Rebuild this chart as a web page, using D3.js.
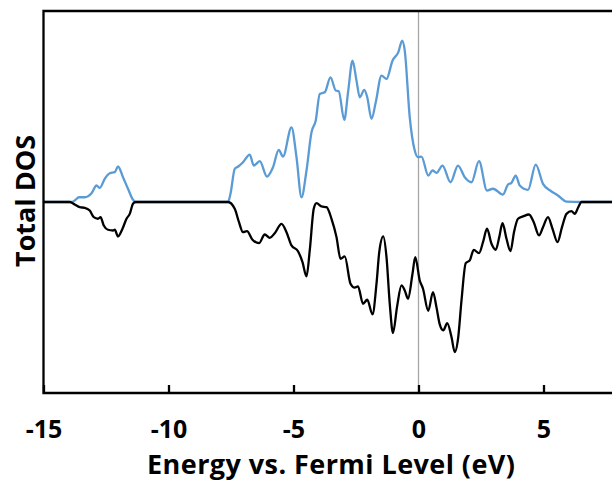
<!DOCTYPE html>
<html>
<head>
<meta charset="utf-8">
<script src="https://cdn.jsdelivr.net/npm/d3@7"></script>
<style>
  body { margin: 0; background: #fff; }
  svg { display: block; }
  text { font-family: "Open Sans", "DejaVu Sans", sans-serif; font-weight: bold; fill: #000; }
</style>
</head>
<body>
<div id="chart"></div>
<script>
// spin-up (blue) DOS
const upEnergy = [-15, -13.88, -13.75, -13.58, -13.35, -13.08, -12.88, -12.75, -12.55, -12.35, -12.15, -12.02, -11.82, -11.62, -11.42, -11.31,
  -7.62, -7.52, -7.35, -7.21, -7.02, -6.75, -6.59, -6.35, -6.06, -5.82, -5.59, -5.42, -5.08, -4.88, -4.68, -4.48, -4.28, -4.11,
  -3.95, -3.75, -3.52, -3.31, -3.19, -2.97, -2.81, -2.64, -2.48, -2.35, -2.17, -2.05, -1.88, -1.71, -1.48, -1.28, -1.04, -0.81,
  -0.65, -0.55, -0.35, -0.15, -0.02, 0.12, 0.39, 0.56, 0.72, 0.96, 1.28, 1.58, 1.85, 2.12, 2.42, 2.74, 2.98, 3.38, 3.58, 3.72,
  3.89, 4.05, 4.38, 4.69, 4.98, 5.32, 5.58, 5.92, 6.52, 8];
const upDos = [0, 0, 0.16, 0.51, 0.51, 0.94, 1.77, 1.52, 2.49, 3.09, 3.20, 3.81, 2.66, 1.42, 0.24, 0,
  0, 0.88, 3.56, 3.81, 4.27, 5.09, 3.91, 4.38, 2.73, 3.73, 5.60, 4.88, 8.02, 4.80, 0.51, 3.38, 7.49, 8.74,
  11.60, 11.77, 13.38, 11.96, 11.88, 8.81, 11.96, 15.17, 13.03, 11.24, 12.03, 11.24, 8.92, 10.70, 13.57, 13.21, 15.17, 16.06,
  17.32, 16.25, 9.09, 5.52, 4.80, 4.88, 2.84, 3.38, 3.13, 3.91, 2.12, 3.91, 2.66, 2.12, 4.38, 1.23, 1.42, 0.80, 1.88, 2.06,
  2.84, 1.77, 1.31, 4.02, 1.95, 1.13, 0.70, 0.05, 0, 0];

// spin-down (black) DOS, drawn negative
const downEnergy = [-15, -13.95, -13.75, -13.55, -13.35, -13.15, -12.99, -12.82, -12.72, -12.59, -12.42, -12.22, -12.15, -12.02, -11.84,
  -11.68, -11.55, -11.42, -11.31, -7.62, -7.35, -7.18, -7.02, -6.86, -6.64, -6.38, -6.15, -5.95, -5.75, -5.48, -5.28, -5.08,
  -4.82, -4.64, -4.48, -4.35, -4.19, -4.08, -3.88, -3.68, -3.48, -3.28, -3.12, -2.95, -2.72, -2.55, -2.42, -2.22, -2.05, -1.84,
  -1.68, -1.57, -1.41, -1.28, -1.15, -1.02, -0.86, -0.68, -0.55, -0.42, -0.24, -0.13, 0.05, 0.18, 0.39, 0.58, 0.72, 0.85,
  0.99, 1.15, 1.32, 1.45, 1.59, 1.72, 1.89, 2.05, 2.21, 2.42, 2.58, 2.74, 2.92, 3.09, 3.23, 3.36, 3.52, 3.68, 3.82, 3.98,
  4.18, 4.42, 4.61, 4.82, 4.98, 5.18, 5.36, 5.56, 5.74, 5.92, 6.12, 6.25, 6.39, 6.52, 8];
const downDos = [0, 0, -0.27, -0.56, -0.62, -0.91, -1.63, -1.80, -1.63, -2.52, -2.98, -3.06, -2.98, -3.70, -2.87,
  -1.80, -1.27, -0.19, 0, 0, -0.73, -2.17, -3.24, -3.13, -4.05, -4.42, -3.49, -3.84, -3.35, -2.34, -3.24, -4.66,
  -5.28, -6.46, -7.99, -5.20, -0.73, -0.13, -0.48, -0.56, -1.80, -3.77, -6.09, -5.84, -8.77, -9.20, -9.06, -10.92, -10.49, -12.06,
  -8.77, -5.38, -3.70, -5.92, -10.92, -14.07, -11.28, -8.95, -9.49, -10.38, -7.70, -5.92, -8.42, -9.31, -11.67, -9.67, -11.31, -13.14,
  -13.78, -13.00, -14.50, -16.11, -14.50, -10.56, -6.56, -6.27, -5.13, -5.49, -4.31, -2.87, -4.48, -5.13, -3.77, -2.27, -3.95, -5.28, -3.24, -1.80,
  -1.55, -1.34, -2.17, -3.59, -2.70, -1.63, -2.87, -4.31, -2.70, -1.27, -0.99, -1.27, -0.56, 0, 0];

const xTicks = [-15, -10, -5, 0, 5];

(function () {
  const width = 612;
  const height = 480;
  const left = 43.5, top = 11, bottom = 393;

  const svg = d3.select('#chart')
    .append('svg')
    .attr('width', width)
    .attr('height', height);

  // 25px per eV, right side runs off the picture
  const x = d3.scaleLinear().domain([-15, 8]).range([left, left + 23 * 25]);
  const y = d3.scaleLinear().domain([-20.5, 20.5]).range([bottom, top]);

  const plot = svg.append('g');

  // Fermi level marker
  plot.append('line')
    .attr('x1', x(0)).attr('x2', x(0))
    .attr('y1', top).attr('y2', bottom)
    .attr('stroke', '#a6a6a6')
    .attr('stroke-width', 1.3);

  const line = d3.line()
    .x(d => x(d[0]))
    .y(d => y(d[1]))
    .curve(d3.curveMonotoneX);

  const upData = upEnergy.map((e, i) => [e, upDos[i]]);
  const downData = downEnergy.map((e, i) => [e, downDos[i]]);

  plot.append('path')
    .datum(upData)
    .attr('d', line)
    .attr('fill', 'none')
    .attr('stroke', '#5b9bd5')
    .attr('stroke-width', 2.3)
    .attr('stroke-linejoin', 'round');

  plot.append('path')
    .datum(downData)
    .attr('d', line)
    .attr('fill', 'none')
    .attr('stroke', '#000')
    .attr('stroke-width', 2.3)
    .attr('stroke-linejoin', 'round');

  // frame: top, left, bottom
  svg.append('path')
    .attr('d', 'M' + width + ',' + top + 'H' + left + 'V' + bottom + 'H' + width)
    .attr('fill', 'none')
    .attr('stroke', '#000')
    .attr('stroke-width', 2.3);

  // x axis ticks point inward
  const xAxis = d3.axisBottom(x)
    .tickValues(xTicks)
    .tickSizeInner(-8)
    .tickSizeOuter(0)
    .tickPadding(0)
    .tickFormat(d3.format('d'));

  const gx = svg.append('g')
    .attr('transform', 'translate(0,' + bottom + ')')
    .call(xAxis);
  gx.select('.domain').remove();
  gx.selectAll('.tick line')
    .attr('stroke', '#000')
    .attr('stroke-width', 2.3);
  gx.selectAll('.tick text')
    .attr('y', 45)
    .attr('dy', null)
    .style('font-size', '25px')
    .style('font-family', '"Open Sans", sans-serif')
    .style('font-weight', 'bold')
    .text(d => d < 0 ? '-' + Math.abs(d) : d);

  // title is a bit wider than Open Sans gives at this size
  svg.append('text')
    .attr('x', 331)
    .attr('y', 473.5)
    .attr('text-anchor', 'middle')
    .attr('textLength', 368)
    .attr('lengthAdjust', 'spacing')
    .style('font-size', '27px')
    .text('Energy vs. Fermi Level (eV)');

  svg.append('text')
    .attr('transform', 'translate(35,201) rotate(-90)')
    .attr('text-anchor', 'middle')
    .style('font-size', '27px')
    .text('Total DOS');
})();
</script>
</body>
</html>
